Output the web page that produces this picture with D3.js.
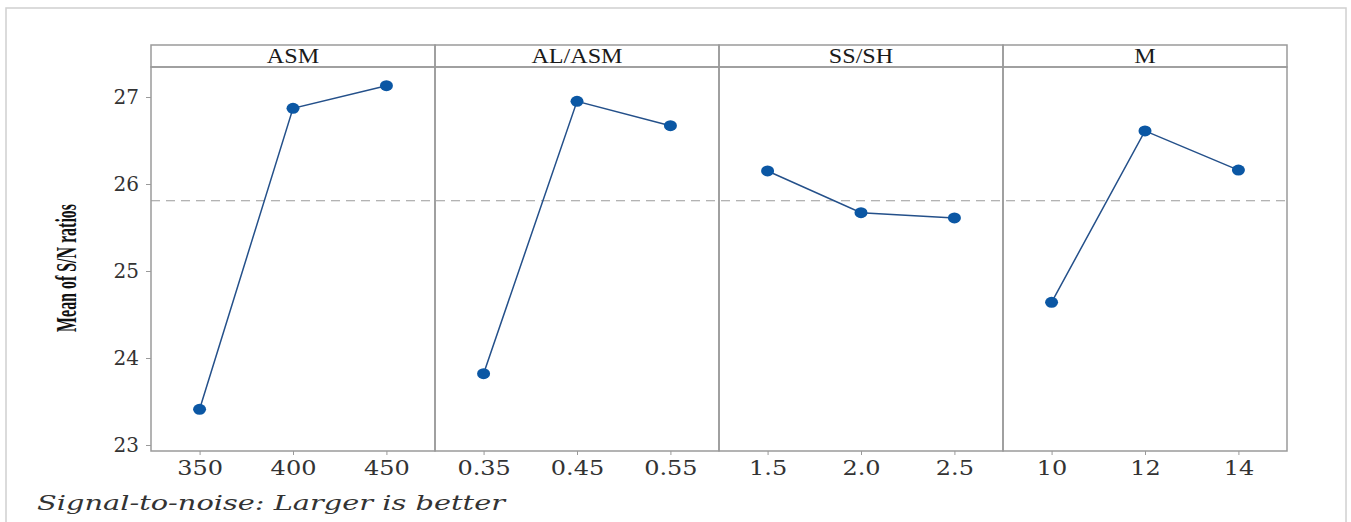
<!DOCTYPE html>
<html><head><meta charset="utf-8">
<script src="https://cdn.jsdelivr.net/npm/d3@7"></script>
<style>html,body{margin:0;padding:0;background:#fff;}</style>
</head><body>
<svg id="c" width="1351" height="522"></svg>
<script>
const factors = ["ASM", "AL/ASM", "SS/SH", "M"];
const levels = [["350","400","450"],["0.35","0.45","0.55"],["1.5","2.0","2.5"],["10","12","14"]];
const snASM = [23.41, 26.87, 27.13];
const snALASM = [23.82, 26.95, 26.67];
const snSSSH = [26.15, 25.67, 25.61];
const snM = [24.64, 26.61, 26.16];
const yTicks = [23, 24, 25, 26, 27];
const seriesValues = [snASM, snALASM, snSSSH, snM];
const grandMean = d3.mean(seriesValues.flat());

(function(){
const svg = d3.select("#c");
svg.append("rect").attr("x",6).attr("y",8).attr("width",1340).attr("height",530)
  .attr("fill","none").attr("stroke","#d0d0d0").attr("stroke-width",1.5);

const pLeft = 151, pRight = 1287, pTop = 45, headerH = 22, pBottom = 451;
const plotTop = pTop + headerH;
const y = d3.scaleLinear().domain([23,27]).range([445,97]);
const panel = d3.scaleBand().domain(factors).range([pLeft,pRight]).paddingInner(0).paddingOuter(0);
const pw = panel.bandwidth();
const gray = "#9a9a9a";

svg.append("line").attr("x1",pLeft).attr("x2",pRight).attr("y1",y(grandMean)).attr("y2",y(grandMean))
  .attr("stroke",gray).attr("stroke-width",1.2).attr("stroke-dasharray","9,6");

factors.forEach((f,i)=>{
  const x0 = panel(f);
  const g = svg.append("g").attr("transform",`translate(${x0},0)`);
  const x = d3.scalePoint().domain(levels[i]).range([0,pw]).padding(0.52);
  g.append("rect").attr("x",0).attr("y",pTop).attr("width",pw).attr("height",headerH)
    .attr("fill","none").attr("stroke",gray).attr("stroke-width",1.5);
  g.append("text").attr("transform",`translate(${pw/2},${pTop+18}) scale(1.15,1)`).attr("text-anchor","middle")
    .attr("font-family","'Liberation Serif','Times New Roman',serif").attr("font-size",21)
    .attr("fill","#1a1a1a").text(f);
  g.append("rect").attr("x",0).attr("y",plotTop).attr("width",pw).attr("height",pBottom-plotTop)
    .attr("fill","none").attr("stroke",gray).attr("stroke-width",1.5);
  const xa = g.append("g").attr("transform",`translate(0,${pBottom})`)
    .call(d3.axisBottom(x).tickSize(4).tickPadding(6));
  xa.select(".domain").remove();
  xa.selectAll("line").attr("stroke",gray);
  xa.selectAll("text").attr("font-family","'DejaVu Serif',serif").attr("font-size",20).attr("fill","#333")
    .attr("transform","scale(1.2,1)");
  const data = levels[i].map((l,j)=>({l, v: seriesValues[i][j]}));
  g.append("path").datum(data)
    .attr("d", d3.line().x(d=>x(d.l)).y(d=>y(d.v)))
    .attr("fill","none").attr("stroke","#24508a").attr("stroke-width",1.5);
  g.selectAll("ellipse").data(data).join("ellipse")
    .attr("cx",d=>x(d.l)).attr("cy",d=>y(d.v)).attr("rx",6.5).attr("ry",5.5)
    .attr("fill","#0b57a4");
});

const ya = svg.append("g").attr("transform",`translate(${pLeft},0)`)
  .call(d3.axisLeft(y).tickValues(yTicks).tickFormat(d3.format("d")).tickSize(5).tickPadding(7));
ya.select(".domain").remove();
ya.selectAll("line").attr("stroke",gray);
ya.selectAll("text").attr("font-family","'DejaVu Serif',serif").attr("font-size",20).attr("fill","#333");

svg.append("text").attr("transform","translate(76,268) rotate(-90)")
  .attr("text-anchor","middle").attr("font-family","'Liberation Serif','Times New Roman',serif")
  .attr("font-weight","bold").attr("font-size",30).attr("fill","#111")
  .attr("textLength",128).attr("lengthAdjust","spacingAndGlyphs")
  .text("Mean of S/N ratios");

svg.append("text").attr("x",37).attr("y",510)
  .attr("font-family","'DejaVu Serif',serif").attr("font-style","italic").attr("font-size",20)
  .attr("fill","#333").attr("textLength",468).attr("lengthAdjust","spacingAndGlyphs")
  .text("Signal-to-noise: Larger is better");
})();
</script>
</body></html>
